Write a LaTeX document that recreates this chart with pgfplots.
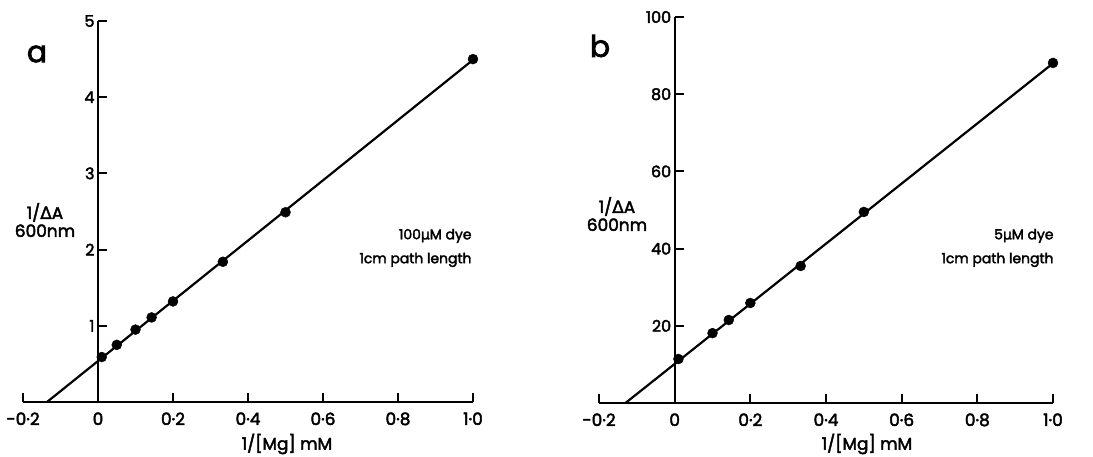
\documentclass[border=0pt]{standalone}
\usepackage{fontspec}
\setmainfont{Poppins}[FakeBold=2.5]
\newfontfamily\dv{DejaVu Sans}[FakeBold=2]
\usepackage{pgfplots}
\pgfplotsset{compat=1.18}

\pgfplotsset{panel/.style={
  scale only axis,
  axis x line=bottom,
  axis y line=middle,
  axis line style={-, line width=2.2pt},
  xmin=-0.2, xmax=1.0, ymin=0,
  xtick={-0.2,0,0.2,0.4,0.6,0.8,1.0},
  xticklabels={-0·2,0,0·2,0·4,0·6,0·8,1·0},
  tick align=inside,
  major tick length=9bp,
  tick style={line width=2pt, black},
  xtick style={draw=none},
  hide obscured y ticks=false,
  /pgf/number format/assume math mode=true,
  xticklabel shift=7bp,
  xticklabel style={font=\fontsize{17}{19}\selectfont},
  yticklabel style={font=\fontsize{16}{18}\selectfont},
  clip=false,
}}
% short upright tick stubs on the x axis
\newcommand\xstubs{%
  \pgfplotsinvokeforeach{-0.2,0.2,0.4,0.6,0.8,1.0}
    {\draw[line width=2pt] (axis cs:##1,0) -- ([yshift=9bp]axis cs:##1,0);}}

\begin{document}
\begin{tikzpicture}
\path[use as bounding box] (0,0) rectangle (1093bp,457bp);

% panel a
\begin{axis}[panel,
  at={(23bp,55bp)}, anchor=south west,
  width=450bp, height=381bp,
  ymax=5, ytick={1,2,3,4,5},
]
  \addplot[black, line width=2.2pt, no marks] coordinates {(-0.136,0) (1.0,4.49)};
  \addplot[black, only marks, mark=*, mark size=5bp] coordinates {
    (0.01,0.59) (0.05,0.75) (0.1,0.95) (0.143,1.11)
    (0.2,1.32) (0.333,1.84) (0.5,2.49) (1.0,4.5)
  };
  \xstubs
\end{axis}

% panel b
\begin{axis}[panel,
  at={(599bp,54bp)}, anchor=south west,
  width=454bp, height=386bp,
  ymax=100, ytick={20,40,60,80,100},
]
  \addplot[black, line width=2.2pt, no marks] coordinates {(-0.13,0) (1.0,88.0)};
  \addplot[black, only marks, mark=*, mark size=5bp] coordinates {
    (0.01,11.4) (0.1,18.1) (0.143,21.5) (0.2,25.9)
    (0.333,35.5) (0.5,49.5) (1.0,88.1)
  };
  \xstubs
\end{axis}

% labels panel a
\node[font=\fontsize{30}{32}\selectfont] at (37bp,403bp) {a};
\node[align=center, font=\fontsize{17}{18}\selectfont] at (45bp,237bp) {1/{\dv Δ}A\\600nm};
\node[anchor=east, align=right, font=\fontsize{14}{24}\selectfont] at (475bp,209bp) {100{\dv μ}M dye\\1cm path length};
\node[font=\fontsize{17}{19}\selectfont] at (287bp,13bp) {1/[Mg] mM};

% labels panel b
\node[font=\fontsize{30}{32}\selectfont] at (600bp,411bp) {b};
\node[align=center, font=\fontsize{17}{18}\selectfont] at (617bp,243bp) {1/{\dv Δ}A\\600nm};
\node[anchor=east, align=right, font=\fontsize{14}{24}\selectfont] at (1057bp,209bp) {5{\dv μ}M dye\\1cm path length};
\node[font=\fontsize{17}{19}\selectfont] at (867bp,13bp) {1/[Mg] mM};
\end{tikzpicture}
\end{document}
